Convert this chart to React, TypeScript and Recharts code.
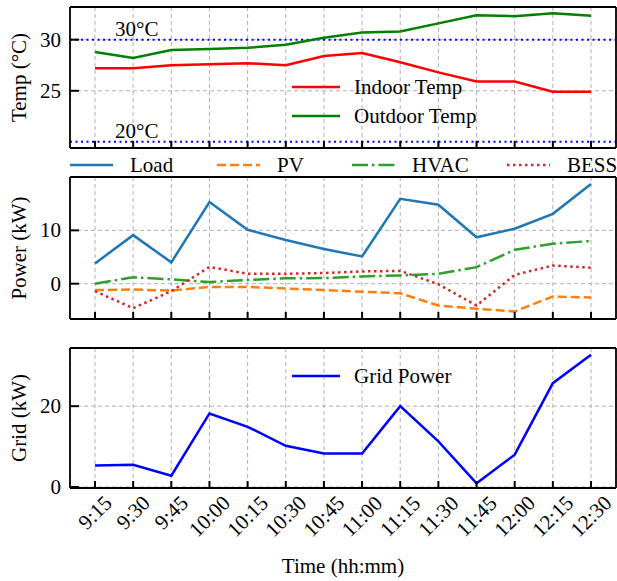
import React from "react";
import {
  CartesianGrid,
  Legend,
  Line,
  LineChart,
  ReferenceLine,
  XAxis,
  YAxis,
} from "recharts";

const FONT = '"Liberation Serif", "Times New Roman", serif';
const FS = 21;

// 15-minute intervals
const times = ["9:15", "9:30", "9:45", "10:00", "10:15", "10:30", "10:45", "11:00", "11:15", "11:30", "11:45", "12:00", "12:15", "12:30"];

// °C
const indoorTemp = [27.2, 27.2, 27.5, 27.6, 27.7, 27.5, 28.4, 28.7, 27.8, 26.8, 25.9, 25.9, 24.9, 24.9];
const outdoorTemp = [28.8, 28.2, 29.0, 29.1, 29.2, 29.5, 30.2, 30.7, 30.8, 31.6, 32.4, 32.3, 32.6, 32.35];

// kW
const load = [3.8, 9.1, 4.0, 15.3, 10.1, 8.2, 6.5, 5.1, 15.9, 14.8, 8.7, 10.3, 13.1, 18.7];
const pv = [-1.2, -1.1, -1.3, -0.6, -0.6, -0.9, -1.2, -1.5, -1.8, -4.1, -4.7, -5.2, -2.4, -2.6];
const hvac = [0.0, 1.2, 0.8, 0.3, 0.7, 1.0, 1.05, 1.35, 1.55, 1.85, 3.1, 6.35, 7.5, 8.0];
const bess = [-1.4, -4.6, -1.4, 3.15, 1.85, 1.85, 2.0, 2.3, 2.4, -0.1, -4.1, 1.65, 3.4, 3.0];
const gridPower = [5.3, 5.5, 2.8, 18.2, 14.9, 10.2, 8.3, 8.3, 20.0, 11.3, 0.9, 8.0, 25.7, 32.7];

const tempTicks = [20, 25, 30];
const powerTicks = [0, 10];
const gridTicks = [0, 20];
const comfortBands = [30, 20];

const rows = times.map((t, i) => ({
  t,
  indoor: indoorTemp[i],
  outdoor: outdoorTemp[i],
  load: load[i],
  pv: pv[i],
  hvac: hvac[i],
  bess: bess[i],
  grid: gridPower[i],
}));

type Item = { name: string; color: string; dash?: string; key: string };

const tempItems: Item[] = [
  { key: "indoor", name: "Indoor Temp", color: "#ff0000" },
  { key: "outdoor", name: "Outdoor Temp", color: "#008000" },
];
const powerItems: Item[] = [
  { key: "load", name: "Load", color: "#1f77b4" },
  { key: "pv", name: "PV", color: "#ff7f0e", dash: "9 4" },
  { key: "hvac", name: "HVAC", color: "#2ca02c", dash: "16 4 2.5 4" },
  { key: "bess", name: "BESS", color: "#d62728", dash: "2.5 3.5" },
];
const gridItems: Item[] = [{ key: "grid", name: "Grid Power", color: "#0000ff" }];

const W = 617;
const LEFT = 70;
const PAD = 25;
const BORDER = { stroke: "#000", strokeWidth: 1.8 };
const TICK = { stroke: "#000", strokeWidth: 2 };

// legend entries: a short line sample followed by the series name
function LegendBlock({
  items,
  column,
  lineLen,
  textGap,
  gap,
  cols,
}: {
  items: Item[];
  column?: boolean;
  lineLen: number;
  textGap: number;
  gap: number;
  cols?: number[];
}) {
  return (
    <div
      style={{
        position: "relative",
        display: cols ? "block" : "flex",
        flexDirection: column ? "column" : "row",
        gap,
        height: cols ? 26 : undefined,
        fontFamily: FONT,
        fontSize: FS,
        lineHeight: "26px",
        color: "#000",
        whiteSpace: "nowrap",
      }}
    >
      {items.map((it, i) => (
        <div
          key={it.name}
          style={{
            display: "flex",
            alignItems: "center",
            ...(cols ? { position: "absolute" as const, left: cols[i], top: 0 } : {}),
          }}
        >
          <svg width={lineLen} height={12}>
            <line x1={0} x2={lineLen} y1={6} y2={6} stroke={it.color} strokeWidth={2.5} strokeDasharray={it.dash} />
          </svg>
          <span style={{ marginLeft: textGap }}>{it.name}</span>
        </div>
      ))}
    </div>
  );
}

// y tick: label to the left, short tick pointing into the plot
function YTick(props: any) {
  const { x, y, payload } = props;
  return (
    <g>
      <line x1={x + 9} x2={x + 18} y1={y} y2={y} {...TICK} />
      <text x={x} y={y} textAnchor="end" dominantBaseline="central" fontSize={FS} fontFamily={FONT} fill="#000">
        {payload.value}
      </text>
    </g>
  );
}

// x tick mark only (shared time axis on the upper panels)
function XMark(props: any) {
  const { x, y } = props;
  return <line x1={x} x2={x} y1={y} y2={y - 7} {...TICK} />;
}

// x tick with a 45° label, bounding box centred under the tick
function XTimeTick(props: any) {
  const { x, y, payload } = props;
  const label = String(payload.value);
  const w = label.split("").reduce((s, c) => s + (c === ":" ? 0.278 : 0.5), 0) * FS;
  const h = 15;
  const boxH = (w + h) * Math.SQRT1_2;
  const cy = y + boxH / 2;
  return (
    <g>
      <line x1={x} x2={x} y1={y - 6} y2={y - 13} {...TICK} />
      <text
        x={x}
        y={cy}
        textAnchor="middle"
        dominantBaseline="central"
        transform={`rotate(-45, ${x}, ${cy})`}
        fontSize={FS}
        fontFamily={FONT}
        fill="#000"
      >
        {label}
      </text>
    </g>
  );
}

function YTitle({ viewBox, text }: any) {
  const cy = viewBox.y + viewBox.height / 2;
  return (
    <text x={26} y={cy} transform={`rotate(-90, 26, ${cy})`} textAnchor="middle" fontSize={FS} fontFamily={FONT} fill="#000">
      {text}
    </text>
  );
}

function XTitle({ viewBox }: any) {
  return (
    <text x={viewBox.x + viewBox.width / 2} y={viewBox.y + 85} textAnchor="middle" fontSize={FS} fontFamily={FONT} fill="#000">
      Time (hh:mm)
    </text>
  );
}

function BandText({ viewBox, text }: any) {
  return (
    <text x={viewBox.x + 45} y={viewBox.y - 4} fontSize={FS} fontFamily={FONT} fill="#000">
      {text}
    </text>
  );
}

// top and right frame lines
function Frame() {
  return [
    <XAxis key="top" xAxisId="top" orientation="top" dataKey="t" height={1} tick={false} tickLine={false} axisLine={BORDER} />,
    <YAxis key="right" yAxisId="right" orientation="right" type="number" domain={[0, 1]} width={1} tick={false} tickLine={false} axisLine={BORDER} />,
  ];
}

const gridStyle = { stroke: "#b0b0b0", strokeDasharray: "4 3" };

function seriesLines(items: Item[]) {
  return items.map((it) => (
    <Line
      key={it.key}
      dataKey={it.key}
      name={it.name}
      stroke={it.color}
      strokeDasharray={it.dash}
      strokeWidth={2.5}
      dot={false}
      isAnimationActive={false}
    />
  ));
}

export default function App() {
  return (
    <div style={{ position: "absolute", left: 0, top: 0, width: W, height: 581, background: "#fff", fontFamily: FONT }}>
      <div style={{ position: "absolute", left: 0, top: 0 }}>
        <LineChart width={W} height={150} data={rows} margin={{ top: 6, right: 0, bottom: 1, left: 0 }}>
          <CartesianGrid {...gridStyle} />
          <XAxis dataKey="t" height={1} padding={{ left: PAD, right: PAD }} tickSize={0} tickMargin={0} tick={<XMark />} axisLine={BORDER} interval={0} />
          <YAxis
            type="number"
            domain={[19.4, 33.2]}
            ticks={tempTicks}
            allowDataOverflow
            width={LEFT}
            tickSize={0}
            tickMargin={9}
            tick={<YTick />}
            axisLine={BORDER}
            label={<YTitle text="Temp (°C)" />}
          />
          {Frame()}
          {comfortBands.map((v) => (
            <ReferenceLine key={v} y={v} stroke="#0000ff" strokeWidth={2} strokeDasharray="2 3.5" label={<BandText text={`${v}°C`} />} />
          ))}
          {seriesLines(tempItems)}
          <Legend
            layout="horizontal"
            align="center"
            verticalAlign="middle"
            wrapperStyle={{ left: 292, top: 74, width: 230 }}
            content={() => <LegendBlock items={tempItems} column lineLen={48} textGap={14} gap={3} />}
          />
        </LineChart>
      </div>

      <div style={{ position: "absolute", left: 0, top: 150 }}>
        <LineChart width={W} height={172} data={rows} margin={{ top: 26, right: 0, bottom: 2, left: 0 }}>
          <CartesianGrid {...gridStyle} />
          <XAxis dataKey="t" height={1} padding={{ left: PAD, right: PAD }} tickSize={0} tickMargin={0} tick={<XMark />} axisLine={BORDER} interval={0} />
          <YAxis
            type="number"
            domain={[-6.62, 20]}
            ticks={powerTicks}
            allowDataOverflow
            width={LEFT}
            tickSize={0}
            tickMargin={9}
            tick={<YTick />}
            axisLine={BORDER}
            label={<YTitle text="Power (kW)" />}
          />
          {Frame()}
          {seriesLines(powerItems)}
          <Legend
            layout="horizontal"
            align="center"
            verticalAlign="middle"
            wrapperStyle={{ left: 70, top: 2, width: 547 }}
            content={() => <LegendBlock items={powerItems} lineLen={43} textGap={17} gap={0} cols={[0, 147, 282, 437]} />}
          />
        </LineChart>
      </div>

      <div style={{ position: "absolute", left: 0, top: 322 }}>
        <LineChart width={W} height={259} data={rows} margin={{ top: 25, right: 0, bottom: 33, left: 0 }}>
          <CartesianGrid {...gridStyle} />
          <XAxis
            dataKey="t"
            height={60}
            padding={{ left: PAD, right: PAD }}
            tickSize={0}
            tickMargin={6}
            tick={<XTimeTick />}
            axisLine={BORDER}
            interval={0}
            label={<XTitle />}
          />
          <YAxis
            type="number"
            domain={[-0.25, 34.4]}
            ticks={gridTicks}
            allowDataOverflow
            width={LEFT}
            tickSize={0}
            tickMargin={9}
            tick={<YTick />}
            axisLine={BORDER}
            label={<YTitle text="Grid (kW)" />}
          />
          {Frame()}
          {seriesLines(gridItems)}
          <Legend
            layout="horizontal"
            align="center"
            verticalAlign="middle"
            wrapperStyle={{ left: 292, top: 41, width: 200 }}
            content={() => <LegendBlock items={gridItems} lineLen={48} textGap={14} gap={0} />}
          />
        </LineChart>
      </div>
    </div>
  );
}
